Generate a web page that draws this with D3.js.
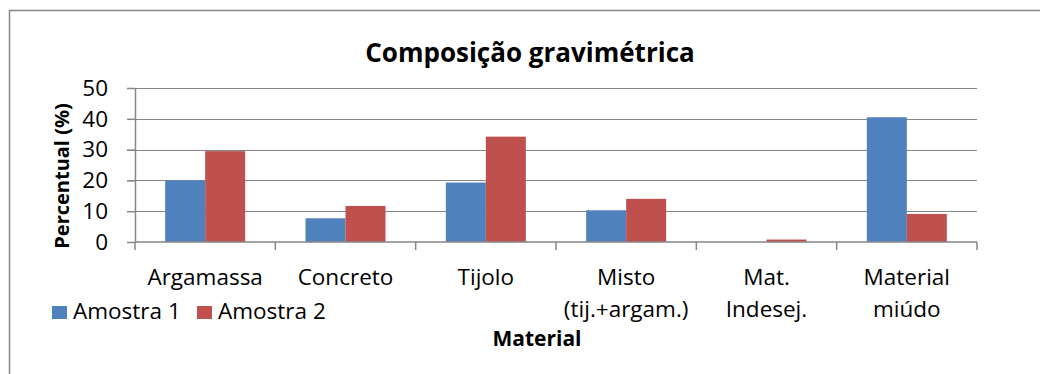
<!DOCTYPE html>
<html>
<head>
<meta charset="utf-8">
<script src="https://cdn.jsdelivr.net/npm/d3@7"></script>
<style>
  body { margin: 0; background: #fff; }
  svg text { font-family: 'Open Sans', sans-serif; fill: #000; }
</style>
</head>
<body>
<div id="chart"></div>
<script>
// chart data
const categories = ['Argamassa', 'Concreto', 'Tijolo', 'Misto (tij.+argam.)', 'Mat. Indesej.', 'Material miúdo'];
const categoryLines = [['Argamassa'], ['Concreto'], ['Tijolo'], ['Misto', '(tij.+argam.)'], ['Mat.', 'Indesej.'], ['Material', 'miúdo']];
const seriesNames = ['Amostra 1', 'Amostra 2'];
const amostra1 = [20.0, 7.7, 19.3, 10.3, 0, 40.5];
const amostra2 = [29.5, 11.7, 34.2, 14.0, 0.8, 9.1];
const yTicks = [0, 10, 20, 30, 40, 50];
const colors = ['#4f81bd', '#c0504d'];

const width = 1040, height = 374;
const margin = { top: 88, right: 63, bottom: 132, left: 135 };

const svg = d3.select('#chart').append('svg')
    .attr('width', width)
    .attr('height', height);

// outer frame (only top & left edges show)
svg.append('rect')
    .attr('x', 9.5).attr('y', 10.5)
    .attr('width', 1200).attr('height', 600)
    .attr('fill', 'none')
    .attr('stroke', '#868686')
    .attr('stroke-width', 1.5);

// scales
const x = d3.scaleBand()
    .domain(categories)
    .range([margin.left, width - margin.right]);

const xSub = d3.scaleBand()
    .domain(seriesNames)
    .range([0, x.bandwidth()])
    .paddingOuter(0.754);

const y = d3.scaleLinear()
    .domain([0, 50])
    .range([height - margin.bottom, margin.top]);

// gridlines
svg.append('g')
    .selectAll('line')
    .data(yTicks.filter(d => d > 0))
    .enter().append('line')
    .attr('x1', margin.left - 8)
    .attr('x2', width - margin.right)
    .attr('y1', d => Math.round(y(d)) + 0.5)
    .attr('y2', d => Math.round(y(d)) + 0.5)
    .attr('stroke', '#868686');

// bars
const rows = categories.map((c, i) => ({ cat: c, values: [amostra1[i], amostra2[i]] }));
const groups = svg.append('g')
    .selectAll('g.grp')
    .data(rows)
    .enter().append('g')
    .attr('class', 'grp')
    .attr('transform', d => `translate(${x(d.cat)},0)`);

groups.selectAll('rect')
    .data(d => d.values.map((v, j) => ({ s: seriesNames[j], v: v, j: j })))
    .enter().append('rect')
    .attr('x', d => xSub(d.s))
    .attr('width', xSub.bandwidth())
    .attr('y', d => y(d.v))
    .attr('height', d => y(0) - y(d.v))
    .attr('fill', d => colors[d.j]);

// y axis
const yAxis = svg.append('g')
    .attr('transform', `translate(${margin.left},0)`)
    .call(d3.axisLeft(y).tickValues(yTicks).tickSize(8).tickPadding(19).tickSizeOuter(0));
yAxis.select('.domain').attr('stroke', '#868686').attr('stroke-width', 1.5);
yAxis.selectAll('.tick line').attr('stroke', '#868686').attr('stroke-width', 1.5);
yAxis.selectAll('.tick text')
    .style('font-size', '22.5px')
    .style('font-family', "'Open Sans', sans-serif")
    .attr('fill', '#000');

// x axis: ticks at category boundaries
const xAxis = svg.append('g');
xAxis.append('line')
    .attr('x1', margin.left).attr('x2', width - margin.right)
    .attr('y1', y(0)).attr('y2', y(0))
    .attr('stroke', '#868686').attr('stroke-width', 1.5);
const bounds = categories.map(c => x(c)).concat([width - margin.right]);
xAxis.selectAll('line.tk')
    .data(bounds)
    .enter().append('line')
    .attr('class', 'tk')
    .attr('x1', d => d).attr('x2', d => d)
    .attr('y1', y(0)).attr('y2', y(0) + 8)
    .attr('stroke', '#868686').attr('stroke-width', 1.5);

// category labels
const lbl = svg.append('g')
    .selectAll('text')
    .data(categories)
    .enter().append('text')
    .attr('text-anchor', 'middle')
    .style('font-size', '22.5px');
lbl.each(function (c, i) {
    const t = d3.select(this);
    categoryLines[i].forEach((line, k) => {
        t.append('tspan')
            .attr('x', x(c) + x.bandwidth() / 2)
            .attr('y', 285 + k * 32)
            .text(line);
    });
});

// title
svg.append('text')
    .attr('x', 530)
    .attr('y', 62)
    .attr('text-anchor', 'middle')
    .style('font-size', '26px')
    .style('font-weight', 'bold')
    .text('Composição gravimétrica');

// axis titles
svg.append('text')
    .attr('x', 537)
    .attr('y', 346)
    .attr('text-anchor', 'middle')
    .style('font-size', '21px')
    .style('font-weight', 'bold')
    .text('Material');

svg.append('text')
    .attr('transform', 'translate(69,176) rotate(-90)')
    .attr('text-anchor', 'middle')
    .style('font-size', '20px')
    .style('font-weight', 'bold')
    .text('Percentual (%)');

// legend
const legend = svg.append('g')
    .selectAll('g')
    .data(seriesNames)
    .enter().append('g')
    .attr('transform', (d, i) => `translate(${52 + i * 145},306)`);
legend.append('rect')
    .attr('width', 15).attr('height', 13)
    .attr('fill', (d, i) => colors[i]);
legend.append('text')
    .attr('x', 21).attr('y', 13)
    .style('font-size', '22.5px')
    .text(d => d);
</script>
</body>
</html>
